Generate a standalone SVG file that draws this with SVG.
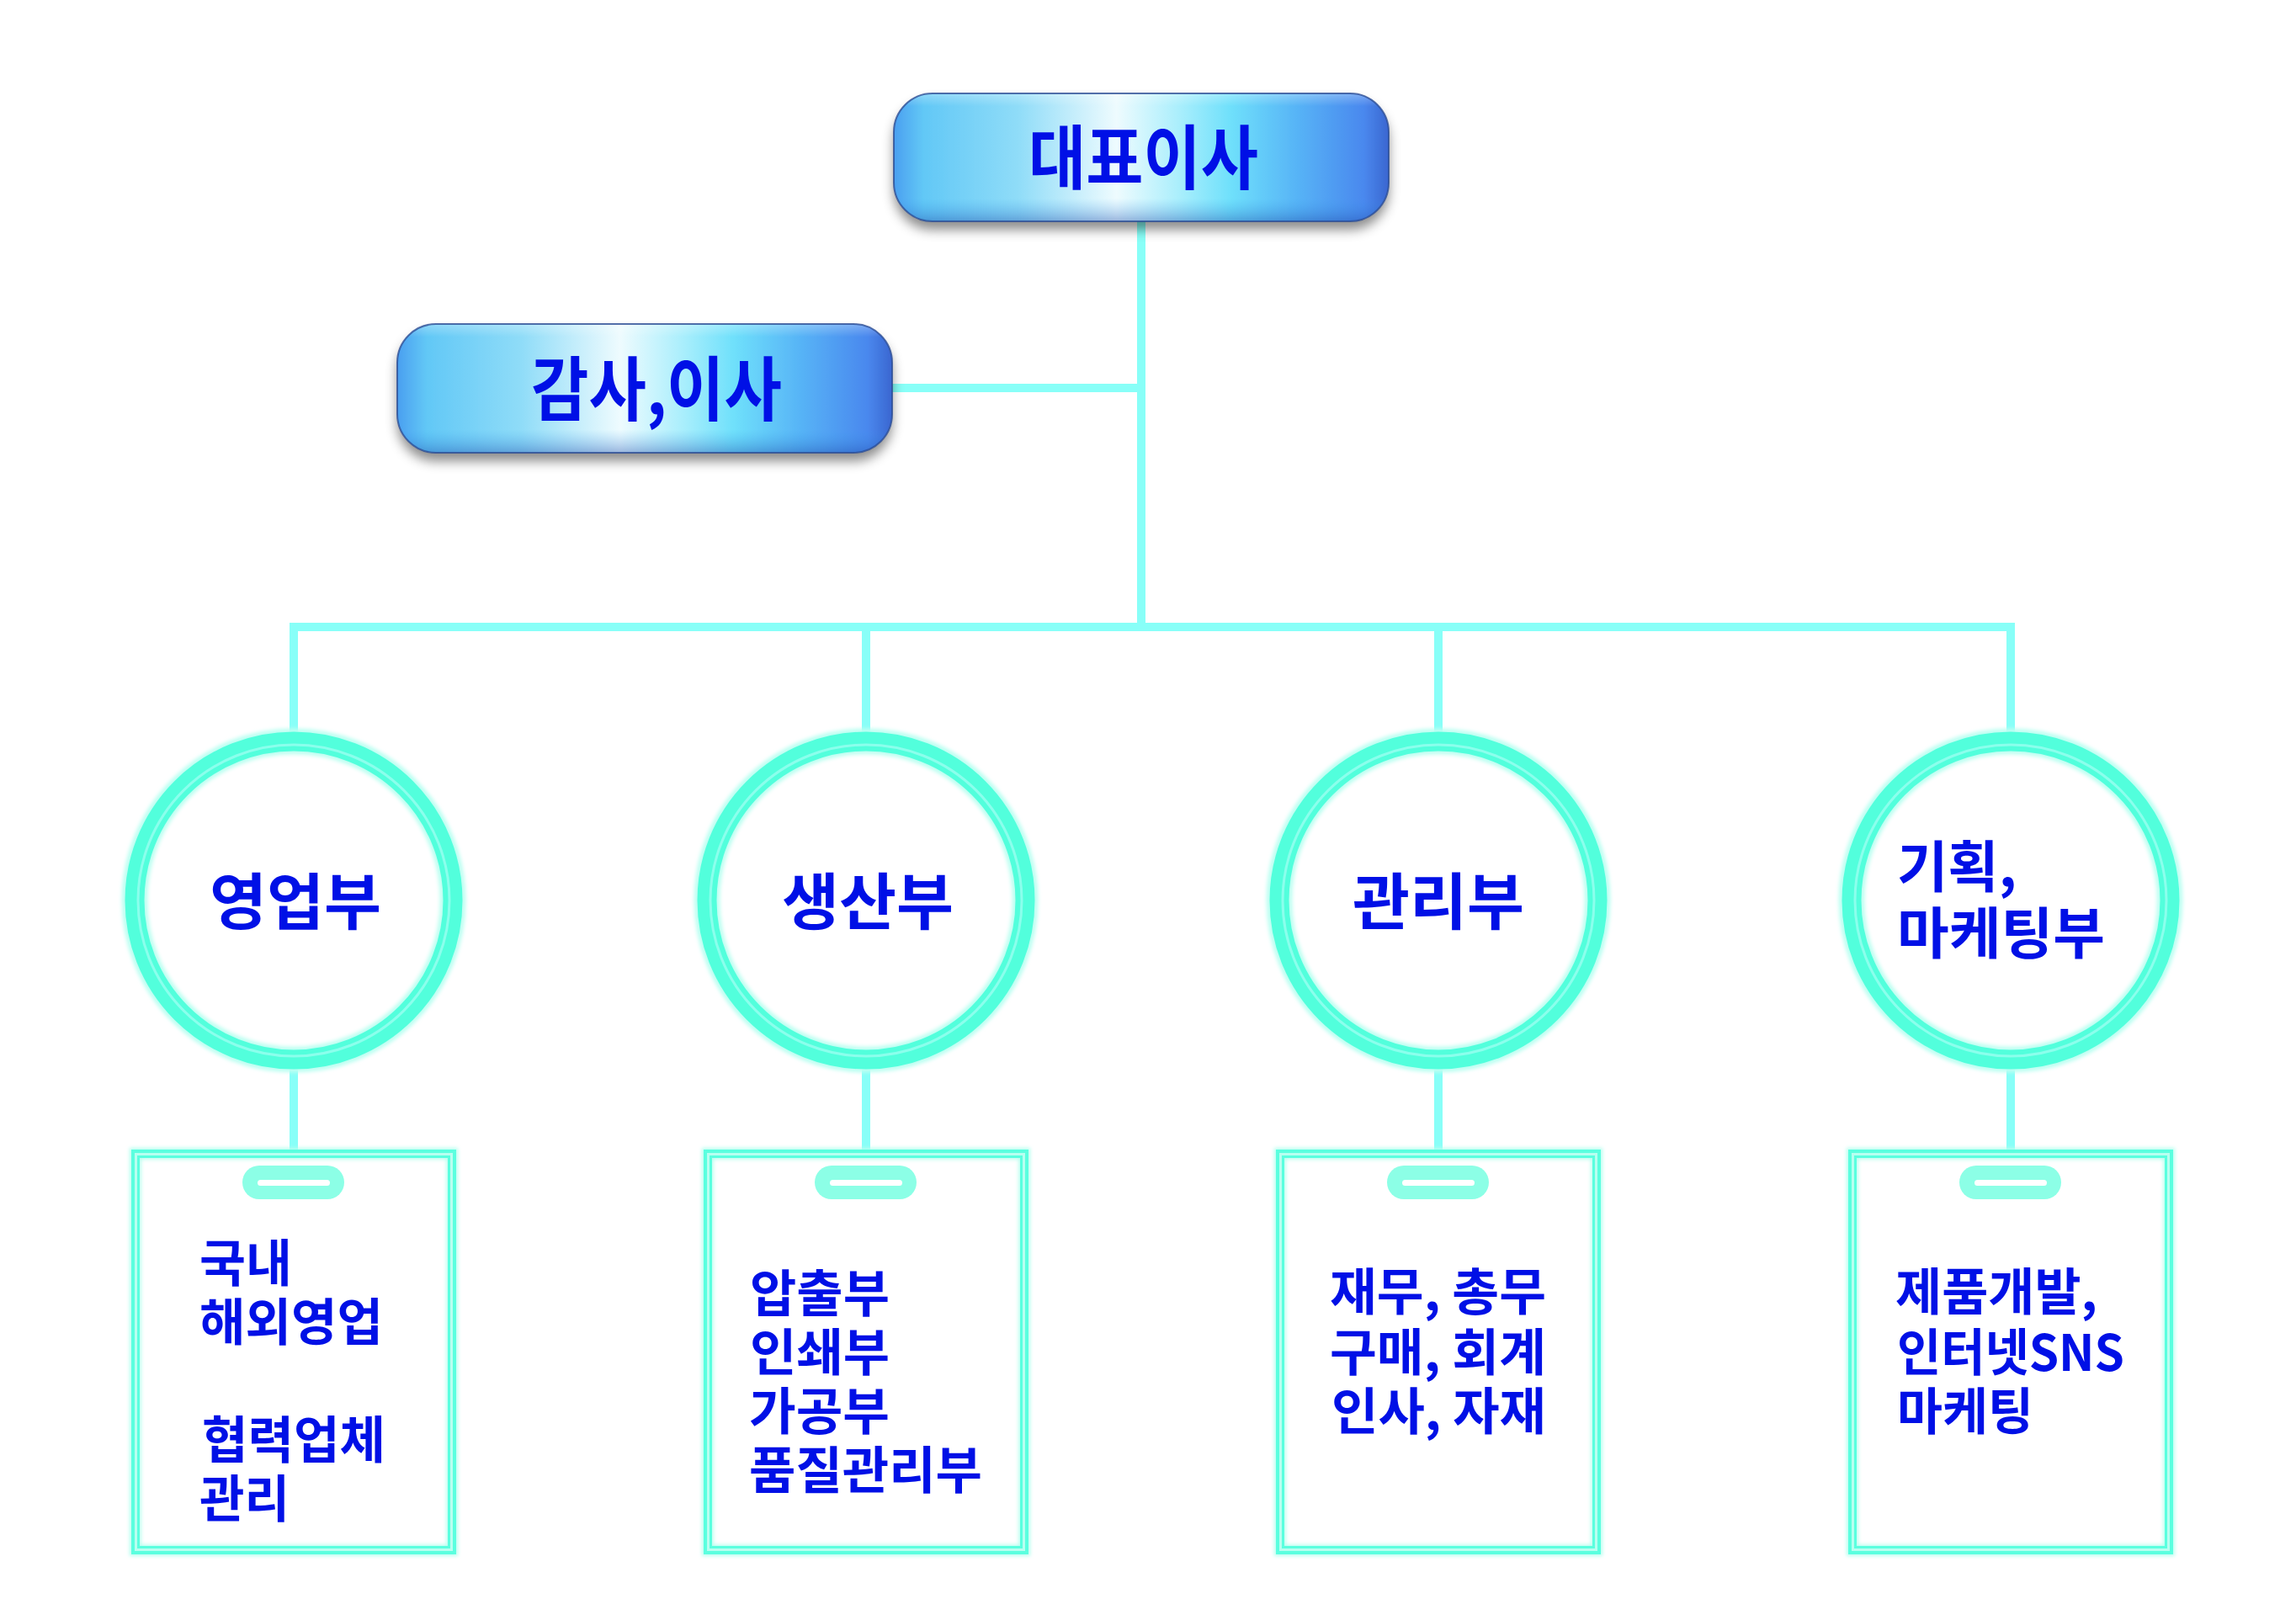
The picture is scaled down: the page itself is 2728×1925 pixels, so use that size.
<svg xmlns="http://www.w3.org/2000/svg" width="2728" height="1925" viewBox="0 0 2728 1925">
<defs>
<style>
.ln{stroke:#88fff8;stroke-width:10;fill:none;stroke-linejoin:miter}
.t{font-family:"Noto Sans CJK KR","Noto Sans",sans-serif;font-weight:700;fill:#0010e6}
.big{font-size:83px}
.mid{font-size:73px}
.sm{font-size:60px}
.ringGlow{fill:#ffffff;stroke:#bdfff2;stroke-width:31}
.ring{fill:none;stroke:#52ffdc;stroke-width:23}
.ringHi{fill:none;stroke:#9afff0;stroke-width:3;opacity:.8}
.cardGlow{fill:#ffffff;stroke:#b8fff0;stroke-width:14}
.cardLine{fill:none;stroke:#5affdf;stroke-width:4}
.cardLine2{fill:none;stroke:#5affdf;stroke-width:3}
.pill{fill:#8cffe6}
.slot{fill:#ffffff}
</style>
<linearGradient id="boxGrad" x1="0" y1="0" x2="1" y2="0">
<stop offset="0" stop-color="#4a9ff0"/>
<stop offset="0.06" stop-color="#62c8f6"/>
<stop offset="0.25" stop-color="#8fdcf8"/>
<stop offset="0.45" stop-color="#eefbfe"/>
<stop offset="0.58" stop-color="#a8eefc"/>
<stop offset="0.68" stop-color="#6fe0fb"/>
<stop offset="0.82" stop-color="#56b2f6"/>
<stop offset="0.95" stop-color="#4a88ee"/>
<stop offset="1" stop-color="#3a66d0"/>
</linearGradient>
<linearGradient id="boxShade" x1="0" y1="0" x2="0" y2="1">
<stop offset="0" stop-color="#ffffff" stop-opacity="0.3"/>
<stop offset="0.1" stop-color="#ffffff" stop-opacity="0"/>
<stop offset="0.82" stop-color="#3aa0f0" stop-opacity="0"/>
<stop offset="1" stop-color="#1e4aa8" stop-opacity="0.4"/>
</linearGradient>
<filter id="shadow" x="-10%" y="-30%" width="120%" height="170%">
<feDropShadow dx="0" dy="10" stdDeviation="7" flood-color="#000000" flood-opacity="0.45"/>
</filter>
<filter id="soft" x="-10%" y="-10%" width="120%" height="120%">
<feGaussianBlur stdDeviation="2"/>
</filter>
</defs>
<rect width="2728" height="1925" fill="#ffffff"/>

<g id="connectors">
<path class="ln" d="M1356,263 V745"/>
<path class="ln" d="M1060,461 H1356"/>
<path class="ln" d="M349,875 V745 H2389 V875"/>
<path class="ln" d="M1029,745 V875"/>
<path class="ln" d="M1709,745 V875"/>
<path class="ln" d="M349,1265 V1369"/>
<path class="ln" d="M1029,1265 V1369"/>
<path class="ln" d="M1709,1265 V1369"/>
<path class="ln" d="M2389,1265 V1369"/>
</g>

<g id="node-ceo">
<rect x="1062" y="111" width="588" height="152" rx="46" fill="url(#boxGrad)" filter="url(#shadow)"/>
<rect x="1062" y="111" width="588" height="152" rx="46" fill="url(#boxShade)" stroke="#2a4c95" stroke-width="2" stroke-opacity="0.8"/>
<text class="t big" x="1222" y="218" textLength="273" lengthAdjust="spacingAndGlyphs">대표이사</text>
</g>

<g id="node-audit">
<rect x="472" y="385" width="588" height="153" rx="46" fill="url(#boxGrad)" filter="url(#shadow)"/>
<rect x="472" y="385" width="588" height="153" rx="46" fill="url(#boxShade)" stroke="#2a4c95" stroke-width="2" stroke-opacity="0.8"/>
<text class="t big" x="631" y="493" textLength="298" lengthAdjust="spacingAndGlyphs">감사,이사</text>
</g>

<g id="node-sales">
<circle class="ringGlow" cx="349" cy="1070" r="189" filter="url(#soft)"/>
<circle class="ring" cx="349" cy="1070" r="189"/>
<circle class="ringHi" cx="349" cy="1070" r="185"/>
<text class="t mid" x="249" y="1098" textLength="204" lengthAdjust="spacingAndGlyphs">영업부</text>
</g>

<g id="node-production">
<circle class="ringGlow" cx="1029" cy="1070" r="189" filter="url(#soft)"/>
<circle class="ring" cx="1029" cy="1070" r="189"/>
<circle class="ringHi" cx="1029" cy="1070" r="185"/>
<text class="t mid" x="929" y="1098" textLength="204" lengthAdjust="spacingAndGlyphs">생산부</text>
</g>

<g id="node-admin">
<circle class="ringGlow" cx="1709" cy="1070" r="189" filter="url(#soft)"/>
<circle class="ring" cx="1709" cy="1070" r="189"/>
<circle class="ringHi" cx="1709" cy="1070" r="185"/>
<text class="t mid" x="1607" y="1098" textLength="204" lengthAdjust="spacingAndGlyphs">관리부</text>
</g>

<g id="node-planning">
<circle class="ringGlow" cx="2389" cy="1070" r="189" filter="url(#soft)"/>
<circle class="ring" cx="2389" cy="1070" r="189"/>
<circle class="ringHi" cx="2389" cy="1070" r="185"/>
<text class="t" style="font-size:66px" x="2254" y="1054" textLength="142" lengthAdjust="spacingAndGlyphs">기획,</text>
<text class="t" style="font-size:66px" x="2254" y="1133" textLength="247" lengthAdjust="spacingAndGlyphs">마케팅부</text>
</g>

<g id="card-sales">
<rect class="cardGlow" x="161" y="1371" width="376" height="471" filter="url(#soft)"/>
<rect class="cardLine" x="158" y="1368" width="382" height="477"/>
<rect class="cardLine2" x="164.5" y="1374.5" width="369" height="464"/>
<rect class="pill" x="288" y="1385" width="121" height="40" rx="20"/>
<rect class="slot" x="306" y="1402" width="86" height="7" rx="3.5"/>
<text class="t sm" x="237" y="1523" textLength="110" lengthAdjust="spacingAndGlyphs">국내</text>
<text class="t sm" x="237" y="1593" textLength="218" lengthAdjust="spacingAndGlyphs">해외영업</text>
<text class="t sm" x="240" y="1733" textLength="218" lengthAdjust="spacingAndGlyphs">협력업체</text>
<text class="t sm" x="237" y="1803" textLength="107" lengthAdjust="spacingAndGlyphs">관리</text>
</g>

<g id="card-production">
<rect class="cardGlow" x="841" y="1371" width="376" height="471" filter="url(#soft)"/>
<rect class="cardLine" x="838" y="1368" width="382" height="477"/>
<rect class="cardLine2" x="844.5" y="1374.5" width="369" height="464"/>
<rect class="pill" x="968" y="1385" width="121" height="40" rx="20"/>
<rect class="slot" x="986" y="1402" width="86" height="7" rx="3.5"/>
<text class="t sm" x="891" y="1559" textLength="166" lengthAdjust="spacingAndGlyphs">압출부</text>
<text class="t sm" x="891" y="1629" textLength="166" lengthAdjust="spacingAndGlyphs">인쇄부</text>
<text class="t sm" x="890" y="1699" textLength="167" lengthAdjust="spacingAndGlyphs">가공부</text>
<text class="t sm" x="890" y="1769" textLength="277" lengthAdjust="spacingAndGlyphs">품질관리부</text>
</g>

<g id="card-admin">
<rect class="cardGlow" x="1521" y="1371" width="376" height="471" filter="url(#soft)"/>
<rect class="cardLine" x="1518" y="1368" width="382" height="477"/>
<rect class="cardLine2" x="1524.5" y="1374.5" width="369" height="464"/>
<rect class="pill" x="1648" y="1385" width="121" height="40" rx="20"/>
<rect class="slot" x="1666" y="1402" width="86" height="7" rx="3.5"/>
<text class="t sm" x="1580" y="1557" textLength="257" lengthAdjust="spacingAndGlyphs">재무, 총무</text>
<text class="t sm" x="1580" y="1629" textLength="257" lengthAdjust="spacingAndGlyphs">구매, 회계</text>
<text class="t sm" x="1582" y="1699" textLength="255" lengthAdjust="spacingAndGlyphs">인사, 자재</text>
</g>

<g id="card-planning">
<rect class="cardGlow" x="2201" y="1371" width="376" height="471" filter="url(#soft)"/>
<rect class="cardLine" x="2198" y="1368" width="382" height="477"/>
<rect class="cardLine2" x="2204.5" y="1374.5" width="369" height="464"/>
<rect class="pill" x="2328" y="1385" width="121" height="40" rx="20"/>
<rect class="slot" x="2346" y="1402" width="86" height="7" rx="3.5"/>
<text class="t sm" x="2252" y="1557" textLength="240" lengthAdjust="spacingAndGlyphs">제품개발,</text>
<text class="t sm" x="2254" y="1629" textLength="270" lengthAdjust="spacingAndGlyphs">인터넷SNS</text>
<text class="t sm" x="2254" y="1699" textLength="162" lengthAdjust="spacingAndGlyphs">마케팅</text>
</g>
</svg>
